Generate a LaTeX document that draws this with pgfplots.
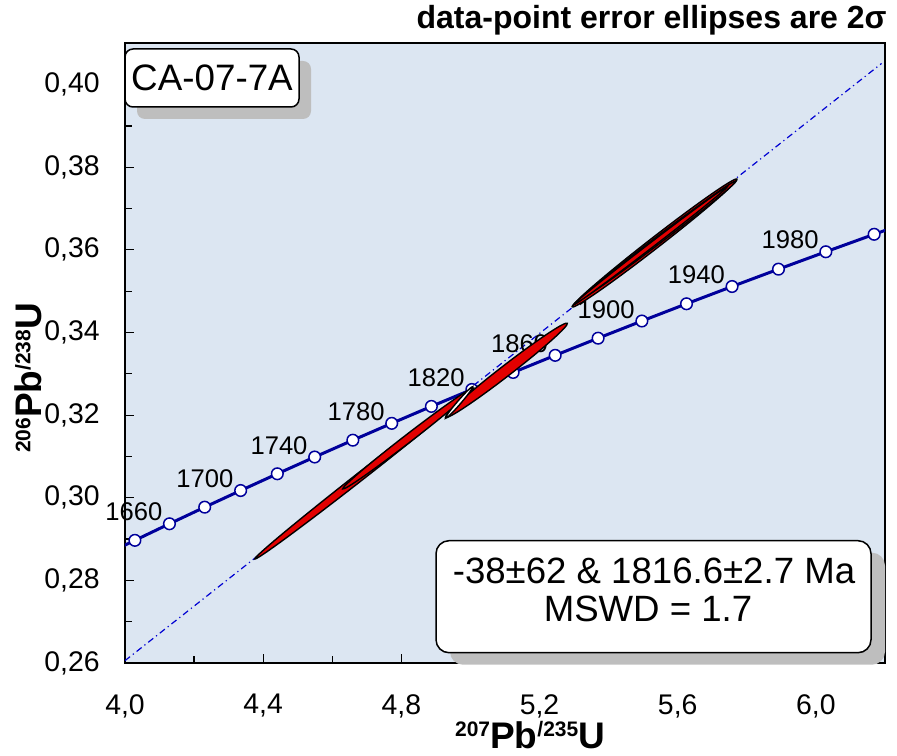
\documentclass[border=0pt]{standalone}
\usepackage{pgfplots}
\pgfplotsset{compat=1.18}
\usepackage{pgfplotstable}
\usepackage{fontspec}
\setmainfont{Liberation Sans}
\usetikzlibrary{calc}
\definecolor{bgblue}{RGB}{220,230,242}
\definecolor{cnavy}{RGB}{0,0,155}
\definecolor{ddblue}{RGB}{0,0,210}
\definecolor{ellred}{RGB}{226,0,0}
\definecolor{shadowgray}{RGB}{190,190,190}
\newcommand{\sups}[1]{\raisebox{5.7pt}{\fontsize{10.5}{10.5}\selectfont #1}}
\newcommand{\tkfont}{\fontsize{14.2}{14.2}\selectfont}

% concordia curve (t = 1630 ... 2010 Ma, 20 Ma steps)
\pgfplotstableread{
x y
3.97938 0.28770
4.02866 0.28969
4.12869 0.29370
4.23071 0.29772
4.33477 0.30175
4.44089 0.30580
4.54912 0.30986
4.65951 0.31393
4.77209 0.31801
4.88689 0.32211
5.00401 0.32621
5.12344 0.33033
5.24525 0.33447
5.36947 0.33862
5.49618 0.34278
5.62541 0.34695
5.75720 0.35113
5.89163 0.35533
6.02871 0.35954
6.16854 0.36377
6.23948 0.36588
}\concordia

% concordia age markers (1640 ... 2000 Ma)
\pgfplotstableread{
x y
4.02866 0.28969
4.12869 0.29370
4.23071 0.29772
4.33477 0.30175
4.44089 0.30580
4.54912 0.30986
4.65951 0.31393
4.77209 0.31801
4.88689 0.32211
5.00401 0.32621
5.12344 0.33033
5.24525 0.33447
5.36947 0.33862
5.49618 0.34278
5.62541 0.34695
5.75720 0.35113
5.89163 0.35533
6.02871 0.35954
6.16854 0.36377
}\concpts

% labelled ages
\pgfplotstableread{
x y label
4.12869 0.29370 1660
4.33477 0.30175 1700
4.54912 0.30986 1740
4.77209 0.31801 1780
5.00401 0.32621 1820
5.24525 0.33447 1860
5.49618 0.34278 1900
5.75720 0.35113 1940
6.02871 0.35954 1980
}\agelabels

\begin{document}
\begin{tikzpicture}
\useasboundingbox (-62.5pt,-46pt) rectangle (386pt,331.5pt);
\begin{axis}[
  at={(0pt,0pt)}, anchor=south west,
  scale only axis, width=380pt, height=309.85pt,
  xmin=4.0, xmax=6.2, ymin=0.26, ymax=0.41,
  axis background/.style={fill=bgblue},
  axis line style={line width=0.9pt, black},
  tick align=inside, tick pos=left,
  xtick={4.0,4.4,4.8,5.2,5.6,6.0},
  minor xtick={4.2,4.6,5.0,5.4,5.8},
  ytick={0.26,0.28,0.30,0.32,0.34,0.36,0.38,0.40},
  minor ytick={0.27,0.29,0.31,0.33,0.35,0.37,0.39},
  major tick length=4.5pt, minor tick length=3.5pt,
  every tick/.style={line width=0.6pt, black},
  scaled ticks=false,
  xticklabel style={font=\tkfont, inner sep=0pt, anchor=north, yshift=-15.5pt,
    /pgf/number format/fixed, /pgf/number format/fixed zerofill,
    /pgf/number format/precision=1, /pgf/number format/use comma,
    /pgf/number format/assume math mode=true},
  yticklabel style={font=\tkfont, inner sep=0pt, anchor=east, xshift=-12.5pt,
    /pgf/number format/fixed, /pgf/number format/fixed zerofill,
    /pgf/number format/precision=2, /pgf/number format/use comma,
    /pgf/number format/assume math mode=true},
  xlabel={\fontsize{18.5}{18.5}\selectfont\bfseries\sups{207}Pb\sups{/235}U},
  xlabel style={at={(axis description cs:0.533,-0.1376)}, anchor=base, inner sep=0pt},
  ylabel={\fontsize{18.5}{18.5}\selectfont\bfseries\sups{206}Pb\sups{/238}U},
  ylabel style={at={(axis description cs:-0.1096,0.46)}, anchor=base, inner sep=0pt},
]
% discordia (regression) line
\addplot[ddblue, line width=0.6pt, dash pattern=on 3.2pt off 1.8pt on 0.6pt off 1.8pt]
  coordinates {(4.0,0.26057) (6.19,0.40512)};
% concordia
\addplot[cnavy, line width=1.5pt, mark=none] table[x=x,y=y] {\concordia};
\addplot[only marks, mark=*, mark size=2.9pt,
  mark options={fill=white, draw=cnavy, line width=0.75pt}] table[x=x,y=y] {\concpts};
\addplot[only marks, mark=none, nodes near coords, point meta=explicit symbolic,
  every node near coord/.append style={anchor=base east, xshift=-3.4pt, yshift=1.5pt,
    font=\fontsize{12.8}{12.8}\selectfont, text=black, inner sep=0pt}]
  table[x=x,y=y,meta=label] {\agelabels};
% error-ellipse tips (long axis end points)
\coordinate (q1a) at (axis cs:4.3757,0.28518);
\coordinate (q1b) at (axis cs:4.9971,0.32584);
\coordinate (q2a) at (axis cs:4.6301,0.30212);
\coordinate (q2b) at (axis cs:5.0087,0.32657);
\coordinate (q3a) at (axis cs:4.9277,0.31943);
\coordinate (q3b) at (axis cs:5.2803,0.34223);
\coordinate (q4a) at (axis cs:4.9277,0.31924);
\coordinate (q4b) at (axis cs:5.0066,0.32689);
\coordinate (q5a) at (axis cs:5.2948,0.34618);
\coordinate (q5b) at (axis cs:5.7717,0.37716);
\coordinate (q6a) at (axis cs:5.3150,0.34787);
\coordinate (q6b) at (axis cs:5.7688,0.37668);
\coordinate (q7a) at (axis cs:5.2977,0.34666);
\coordinate (q7b) at (axis cs:5.7428,0.37523);
\end{axis}
% error ellipses
\foreach \a/\b/\w/\c in {q1a/q1b/2.0pt/ellred, q2a/q2b/2.0pt/ellred, q3a/q3b/2.7pt/ellred,
  q4a/q4b/0.9pt/white, q5a/q5b/2.7pt/ellred, q6a/q6b/1.8pt/ellred, q7a/q7b/1.2pt/ellred}{
  \draw[line width=0.7pt, draw=black, fill=\c]
    let \p1=(\a), \p2=(\b), \n1={atan2(\y2-\y1,\x2-\x1)}, \n2={veclen(\x2-\x1,\y2-\y1)/2}
    in ($(\p1)!0.5!(\p2)$) ellipse [x radius={\n2*1pt}, y radius=\w, rotate=\n1];
}
% title
\node[anchor=base east, inner sep=0pt, font=\fontsize{16}{16}\selectfont\bfseries]
  at (381pt,317.35pt) {data-point error ellipses are 2σ};
% sample box
\fill[shadowgray, rounded corners=4pt] (6pt,272pt) rectangle (93pt,301pt);
\draw[line width=0.75pt, fill=white, rounded corners=4pt] (0pt,278pt) rectangle (87pt,307pt);
\node[font=\fontsize{18.4}{18.4}\selectfont, inner sep=0pt] at (43.5pt,292.5pt) {CA-07-7A};
% result box
\fill[shadowgray, rounded corners=6.5pt] (162.5pt,-0.85pt) rectangle (380pt,55.15pt);
\draw[line width=0.75pt, fill=white, rounded corners=6.5pt] (155.5pt,5.15pt) rectangle (373pt,61.15pt);
\node[anchor=base, inner sep=0pt, font=\fontsize{18.3}{18.3}\selectfont] at (264.5pt,39.85pt)
  {-38±62 \& 1816.6±2.7 Ma};
\node[anchor=base, inner sep=0pt, font=\fontsize{18.3}{18.3}\selectfont] at (261.5pt,20.65pt)
  {MSWD = 1.7};
\end{tikzpicture}
\end{document}
